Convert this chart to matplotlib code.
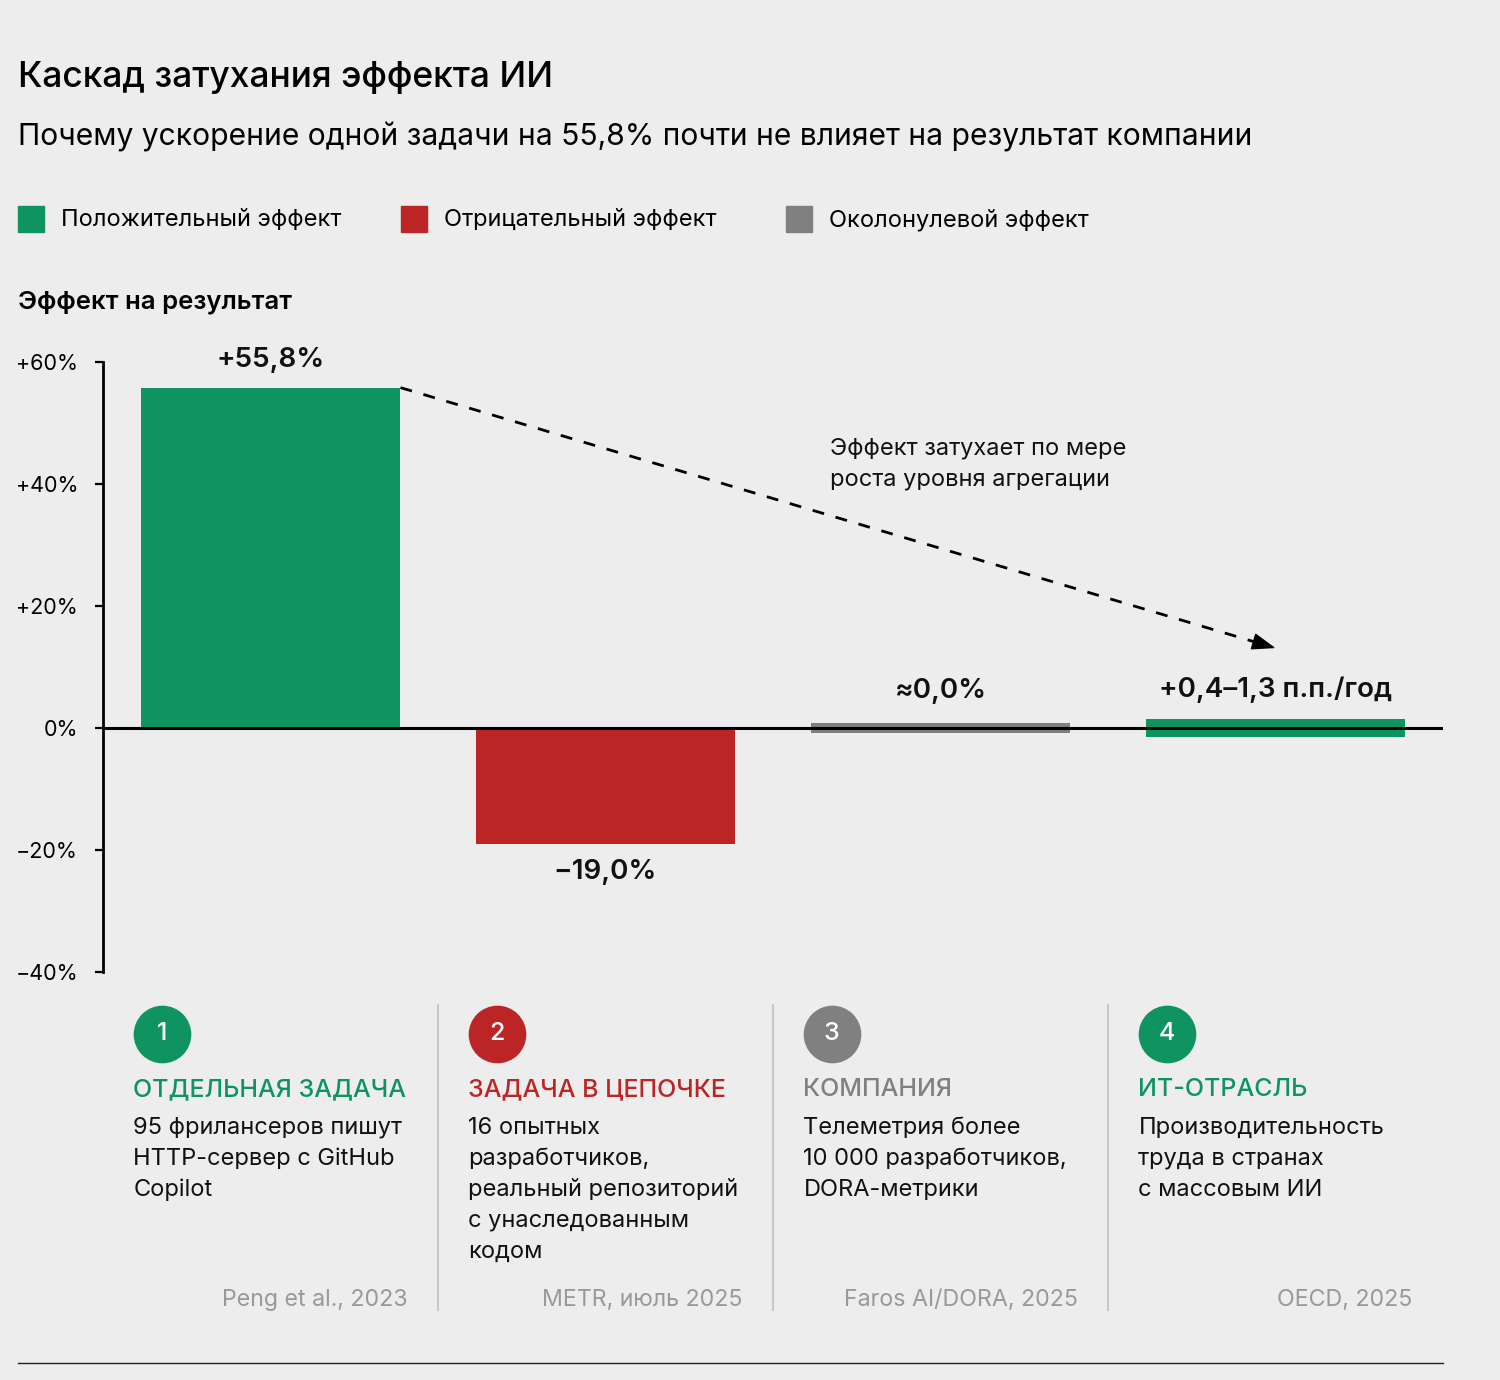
import matplotlib
matplotlib.use('Agg')
import matplotlib.pyplot as plt
import matplotlib.transforms as mtransforms
from matplotlib.lines import Line2D
from matplotlib.patches import Rectangle
import numpy as np

plt.rcParams['font.family'] = ['Inter', 'DejaVu Sans']
plt.rcParams['axes.unicode_minus'] = True

# данные
stages = ["ОТДЕЛЬНАЯ ЗАДАЧА", "ЗАДАЧА В ЦЕПОЧКЕ", "КОМПАНИЯ", "ИТ-ОТРАСЛЬ"]
effects = [55.8, -19.0, 0.0, 0.85]
kinds = ["pos", "neg", "zero", "pos"]
value_labels = ["+55,8%", "−19,0%", "≈0,0%", "+0,4–1,3 п.п./год"]
descriptions = [
    "95 фрилансеров пишут\nHTTP-сервер с GitHub\nCopilot",
    "16 опытных\nразработчиков,\nреальный репозиторий\nс унаследованным\nкодом",
    "Телеметрия более\n10 000 разработчиков,\nDORA-метрики",
    "Производительность\nтруда в странах\nс массовым ИИ",
]
sources = ["Peng et al., 2023", "METR, июль 2025", "Faros AI/DORA, 2025", "OECD, 2025"]
yticks = [-40, -20, 0, 20, 40, 60]
ytick_labels = ["−40%", "−20%", "0%", "+20%", "+40%", "+60%"]

legend_names = {"pos": "Положительный эффект", "neg": "Отрицательный эффект",
                "zero": "Околонулевой эффект"}
colors = {"pos": "#0F9360", "neg": "#BB2525", "zero": "#808080"}
bg = "#EDEDED"

W, H = 1500, 1380
fig = plt.figure(figsize=(W / 100, H / 100), dpi=100, facecolor=bg)

def fy(px):
    return 1 - px / H

ax = fig.add_axes([103 / W, fy(972), 1340 / W, 610 / H])
ax.set_facecolor(bg)
ax.set_xlim(-0.5, 3.5)
ax.set_ylim(-40, 60)

x = np.arange(len(stages))
bar_w = 0.776
# полоса для околонулевых значений
strip = {0: None, 1: None, 2: 1.8, 3: 3.1}
for i, v in enumerate(effects):
    c = colors[kinds[i]]
    if strip[i] is None:
        ax.bar(x[i], v, width=bar_w, color=c, zorder=2)
    else:
        ax.bar(x[i], strip[i], bottom=-strip[i] / 2, width=bar_w, color=c, zorder=2)

# подписи значений
offsets = [20, -20, 23, 21]
for i, v in enumerate(effects):
    top = v if strip[i] is None else strip[i] / 2
    ax.annotate(value_labels[i], xy=(x[i], top), xytext=(0, offsets[i]),
                textcoords='offset points', ha='center', va='center',
                fontsize=20, fontweight='semibold', color='#111111')

ax.axhline(0, color='black', lw=2.2, zorder=3)

# стрелка затухания: пунктир + сплошной наконечник
x0, y0 = x[0] + bar_w / 2, effects[0]
x1, y1 = x[3], 13.1
ax.plot([x0, x0 + (x1 - x0) * 0.975], [y0, y0 + (y1 - y0) * 0.975], color='black',
        lw=2, dashes=(4.3, 4.3))
ax.annotate("", xy=(x1, y1), xytext=(x0 + (x1 - x0) * 0.975, y0 + (y1 - y0) * 0.975),
            arrowprops=dict(arrowstyle='-|>,head_length=0.75,head_width=0.27',
                            lw=1, color='black', mutation_scale=20,
                            shrinkA=0, shrinkB=0))
ax.text(1.669, 43.3, "Эффект затухает по мере\nроста уровня агрегации",
        ha='left', va='center', fontsize=17, linespacing=1.5, color='#111111')

for s in ['top', 'right', 'bottom']:
    ax.spines[s].set_visible(False)
ax.spines['left'].set_linewidth(2)
ax.spines['left'].set_bounds(-40, 60)
ax.set_xticks([])
ax.set_yticks(yticks)
ax.set_yticklabels(ytick_labels)
ax.tick_params(axis='y', length=6, width=1.6, pad=12, labelsize=15.5, colors='black')

# заголовки
fig.text(18 / W, fy(77), "Каскад затухания эффекта ИИ", fontsize=25.5,
         fontweight='medium', va='center', ha='left')
fig.text(18 / W, fy(137), "Почему ускорение одной задачи на 55,8% почти не влияет на результат компании",
         fontsize=21.6, va='center', ha='left')
fig.text(18 / W, fy(302), "Эффект на результат", fontsize=18.5,
         fontweight='semibold', va='center', ha='left')

# легенда
leg_x = [18, 401, 786]
for k, lx in zip(["pos", "neg", "zero"], leg_x):
    fig.add_artist(Rectangle((lx / W, fy(232)), 26 / W, 26 / H,
                             transform=fig.transFigure, color=colors[k]))
    fig.text((lx + 43) / W, fy(220), legend_names[k], fontsize=17,
             va='center', ha='left')

# нижняя панель этапов
blend = mtransforms.blended_transform_factory(ax.transData, fig.transFigure)
head_colors = [colors[k] for k in kinds]
for i in range(len(stages)):
    ax.plot([x[i] - 0.325], [fy(1034)], 'o', ms=40.5, color=head_colors[i],
            transform=blend, clip_on=False)
    ax.text(x[i] - 0.325, fy(1034), str(i + 1), transform=blend, ha='center',
            va='center', color='white', fontsize=18, fontweight='medium')
    ax.text(x[i] - 0.409, fy(1090), stages[i], transform=blend, ha='left',
            va='center', color=head_colors[i], fontsize=18, fontweight='medium')
    ax.text(x[i] - 0.409, fy(1117), descriptions[i], transform=blend, ha='left',
            va='top', color='#111111', fontsize=17, linespacing=1.52)
    ax.text(x[i] + 0.409, fy(1300), sources[i], transform=blend, ha='right',
            va='center', color='#999999', fontsize=16.7)
    if i < len(stages) - 1:
        ax.plot([x[i] + 0.5, x[i] + 0.5], [fy(1005), fy(1310)], color='#C8C8C8',
                lw=1.5, transform=blend, clip_on=False)

fig.add_artist(Line2D([18 / W, 1443 / W], [fy(1363), fy(1363)], color='#222222',
                      lw=1, transform=fig.transFigure))

fig.savefig("out.png", dpi=100, facecolor=bg)
